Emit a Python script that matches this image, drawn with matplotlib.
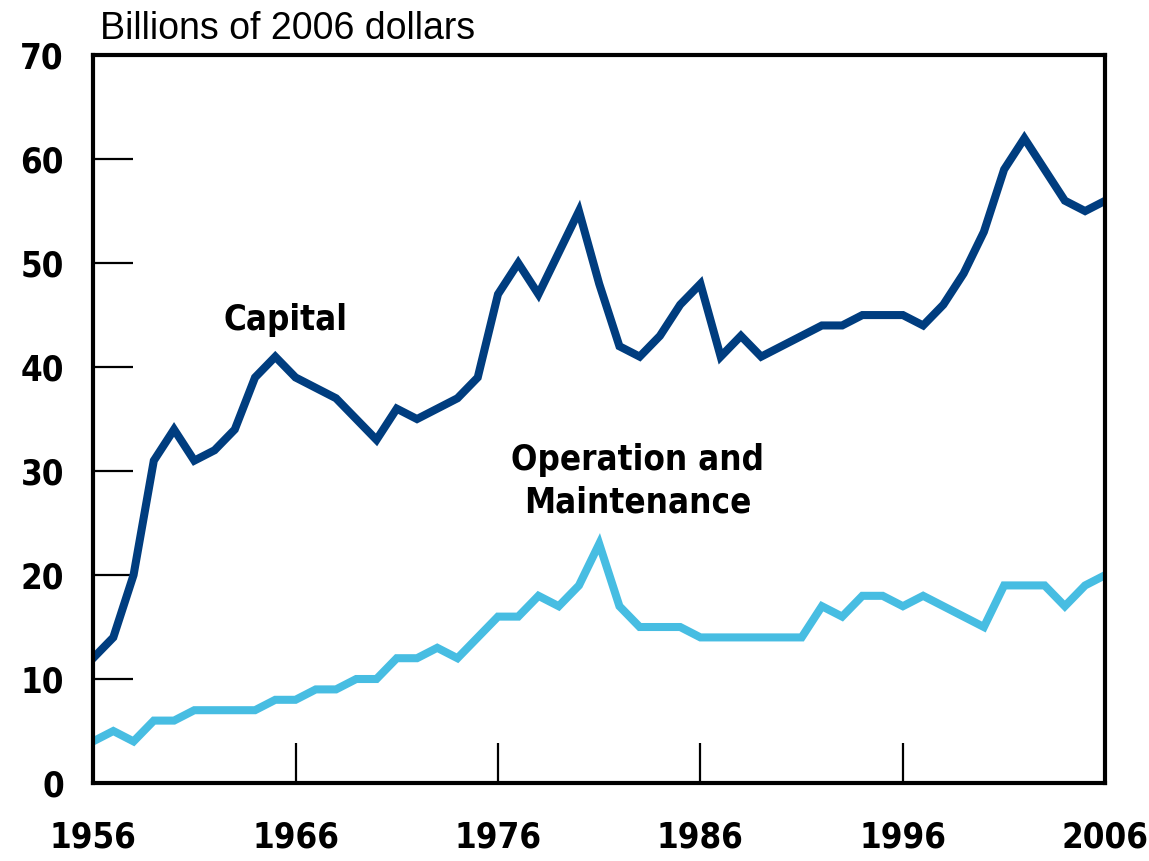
# Capital vs operation and maintenance spending, 1956-2006
import numpy as np
import matplotlib.pyplot as plt

years = list(range(1956, 2007))

capital = [12, 14, 20, 31, 34, 31, 32, 34, 39, 41,
           39, 38, 37, 35, 33, 36, 35, 36, 37, 39,
           47, 50, 47, 51, 55, 48, 42, 41, 43, 46,
           48, 41, 43, 41, 42, 43, 44, 44, 45, 45,
           45, 44, 46, 49, 53, 59, 62, 59, 56, 55,
           56]

operation = [4, 5, 4, 6, 6, 7, 7, 7, 7, 8,
             8, 9, 9, 10, 10, 12, 12, 13, 12, 14,
             16, 16, 18, 17, 19, 23, 17, 15, 15, 15,
             14, 14, 14, 14, 14, 14, 17, 16, 18, 18,
             17, 18, 17, 16, 15, 19, 19, 19, 17, 19,
             20]

x_ticks = [1956, 1966, 1976, 1986, 1996, 2006]
y_ticks = [0, 10, 20, 30, 40, 50, 60, 70]

fig = plt.figure(figsize=(11.49, 8.61), dpi=100)
ax = fig.add_axes([0.081, 0.0906, 0.881, 0.8454])

ax.plot(years, capital, color='#003d7f', linewidth=5.8, solid_joinstyle='miter')
ax.plot(years, operation, color='#47bde2', linewidth=5.8, solid_joinstyle='miter')

ax.set_xlim(1956, 2006)
ax.set_ylim(0, 70)
ax.set_xticks(x_ticks)
ax.set_yticks(y_ticks)

for s in ax.spines.values():
    s.set_linewidth(3)

ax.tick_params(axis='both', direction='in', length=29, width=1.6)
ax.tick_params(axis='x', pad=27)
ax.tick_params(axis='y', pad=21)
for lab in ax.get_xticklabels() + ax.get_yticklabels():
    lab.set_fontfamily('DejaVu Sans')
    lab.set_fontstretch('condensed')
    lab.set_fontweight('bold')
    lab.set_fontsize(25)

ax.text(1965.5, 44.5, 'Capital', ha='center', va='center', stretch='condensed',
        fontsize=25, fontweight='bold', family='DejaVu Sans')
ax.text(1982.9, 29.0, 'Operation and\nMaintenance', ha='center', va='center',
        stretch='condensed', fontsize=25, fontweight='bold', family='DejaVu Sans',
        linespacing=1.3)

fig.text(0.087, 0.966, 'Billions of 2006 dollars', ha='left', va='center',
         fontsize=27, family=['Liberation Sans', 'DejaVu Sans'])

fig.savefig('out.png', dpi=100)
